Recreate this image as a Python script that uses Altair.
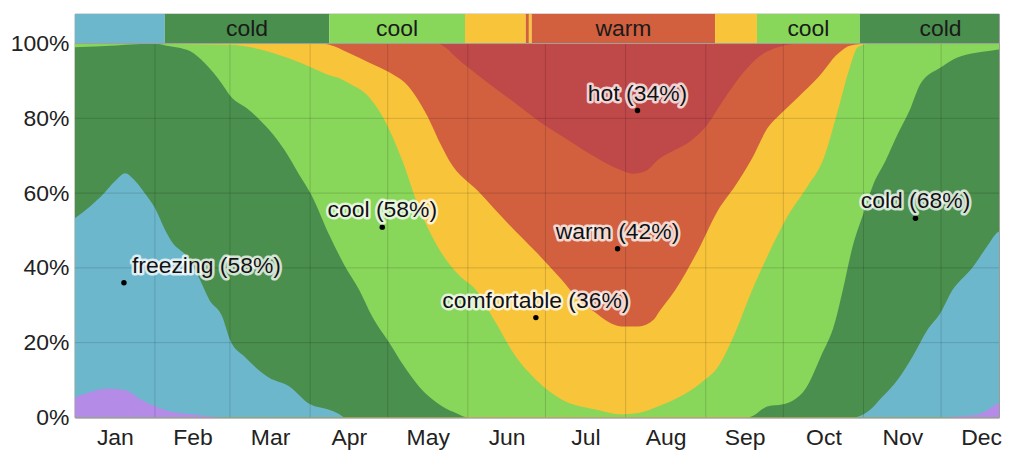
import altair as alt
import pandas as pd

# ---------------- data ----------------
months = ["Jan", "Feb", "Mar", "Apr", "May", "Jun", "Jul", "Aug", "Sep", "Oct", "Nov", "Dec"]
month_mid = [15.5, 45.5, 75.5, 106, 136.5, 167, 197.5, 228.5, 259, 289.5, 320, 350.5]
month_start = [31, 60, 91, 121, 152, 182, 213, 244, 274, 305, 335]

cat_names = ["frigid", "freezing", "cold", "cool", "comfortable", "warm", "hot"]
cat_colors = ["#b48be6", "#6db7cd", "#4a8f4d", "#88d65a", "#f8c43a", "#d2603f", "#bf4848"]

# cumulative top (fraction of hours) of each temperature band, by day of year
frigid_day = [0, 6, 12, 16, 20, 25, 31, 35, 39, 46, 52, 58, 336, 341, 349, 353, 357, 361, 366]
frigid_top = [0.053, 0.068, 0.077, 0.076, 0.072, 0.05, 0.03, 0.02, 0.013, 0.008, 0.003, 0.0,
              0.0, 0.003, 0.008, 0.02, 0.037, 0.04, 0.053]

freezing_day = [0, 6, 10, 16, 19.4, 23, 27, 31, 35, 37, 44.5, 48.4, 52, 57, 60, 65.6, 75, 83, 91, 98, 102, 104.5,
                301, 306.7, 312.4, 318.2, 324, 329.8, 334.8, 339.4, 343, 347, 353, 357, 361, 366]
freezing_top = [0.533, 0.565, 0.59, 0.635, 0.653, 0.635, 0.6, 0.56, 0.5, 0.475, 0.42, 0.368, 0.315, 0.27, 0.208,
                0.163, 0.107, 0.083, 0.035, 0.021, 0.01, 0.0,
                0.0, 0.016, 0.056, 0.101, 0.163, 0.235, 0.28, 0.341, 0.37, 0.40, 0.46, 0.496, 0.505, 0.533]

cold_day = [0, 16, 31, 35, 44.5, 50.3, 56.8, 60, 67.6, 75.3, 81.1, 86.9, 91.5, 98.4, 104.2, 110, 115, 121.6, 127,
            133.1, 138, 142, 148, 152, 260.4, 268.1, 273.8, 282.4, 288.5, 293.9, 297, 300.9, 304.7, 308.6, 313.6,
            318, 322.8, 327.1, 334.8, 341.3, 348, 354.1, 360.7, 366]
cold_top = [0.99, 0.995, 1.0, 0.995, 0.98, 0.947, 0.893, 0.861, 0.821, 0.768, 0.715, 0.648, 0.595, 0.488, 0.408,
            0.341, 0.27, 0.2, 0.14, 0.083, 0.05, 0.03, 0.01, 0.0, 0.0, 0.03, 0.035, 0.075, 0.163, 0.253, 0.341,
            0.46, 0.54, 0.62, 0.688, 0.755, 0.821, 0.893, 0.936, 0.963, 0.975, 0.981, 0.987, 0.99]

cool_day = [0, 59.9, 71.5, 83, 91.5, 98.4, 102.3, 106.2, 113.9, 120.4, 126.6, 133.1, 140.9, 148.6, 155.1, 162.8,
            170.5, 178.3, 188.3, 201.4, 211.4, 218, 225.7, 233.4, 242.2, 248.8, 255.4, 260.4, 268.1, 275.8, 283.5,
            289.3, 295.1, 299.7, 302.8, 307.8, 366]
cool_top = [1.0, 0.997, 0.985, 0.96, 0.936, 0.915, 0.907, 0.893, 0.856, 0.787, 0.688, 0.56, 0.45, 0.38, 0.341,
            0.253, 0.163, 0.101, 0.048, 0.021, 0.008, 0.012, 0.03, 0.053, 0.093, 0.136, 0.227, 0.315, 0.435, 0.54,
            0.62, 0.688, 0.821, 0.936, 0.99, 1.0, 1.0]

comfortable_day = [0, 95, 98.4, 106, 113.9, 121.6, 129.3, 135.8, 142, 144.7, 156.3, 167.8, 178.3, 188.3, 194.8,
                   201.4, 206.4, 211.4, 218, 223.8, 225.7, 232.2, 241.1, 248.8, 255.4, 261.5, 268.1, 273.1, 279.6,
                   287.4, 295.1, 300.1, 307.8, 366]
comfortable_top = [1.0, 1.0, 0.997, 0.975, 0.949, 0.923, 0.883, 0.813, 0.723, 0.688, 0.603, 0.517, 0.443, 0.368,
                   0.315, 0.28, 0.255, 0.243, 0.243, 0.261, 0.28, 0.341, 0.448, 0.555, 0.62, 0.688, 0.776, 0.813,
                   0.856, 0.909, 0.973, 0.995, 1.0, 1.0]

warm_day = [0, 137, 139.7, 149.8, 160.1, 170.5, 180.6, 191, 201.4, 210, 216, 221, 225.7, 232, 238.4, 243.8, 251.5,
            259.2, 264.2, 271.9, 280.8, 366]
warm_top = [1.0, 1.0, 1.0, 0.949, 0.893, 0.84, 0.787, 0.741, 0.696, 0.665, 0.652, 0.66, 0.69, 0.715, 0.741, 0.776,
            0.856, 0.928, 0.963, 0.99, 1.0, 1.0]

hot_day = [0, 366]
hot_top = [1.0, 1.0]

# dominant band strip along the top
band_cat = ["freezing", "cold", "cool", "comfortable", "warm", "comfortable", "warm", "comfortable", "cool", "cold"]
band_start = [0, 34.8, 98.4, 150.9, 174.4, 175.6, 176.7, 247.6, 263.8, 303.6]
band_end = [34.8, 98.4, 150.9, 174.4, 175.6, 176.7, 247.6, 263.8, 303.6, 366]
band_label = ["", "cold", "cool", "", "", "", "warm", "", "cool", "cold"]

# annotations
note_label = ["freezing (58%)", "cool (58%)", "comfortable (36%)", "warm (42%)", "hot (34%)", "cold (68%)"]
note_day = [19, 118.9, 178.3, 209.9, 217.6, 325.1]
note_value = [0.36, 0.509, 0.267, 0.451, 0.821, 0.533]
note_side = ["right", "center", "center", "center", "center", "center"]

# ---------------- chart ----------------
FONT = "Liberation Sans"
X_END = 357.4          # the reference picture is cut off in late December
x_scale = alt.Scale(domain=[0, X_END], nice=False, zero=False)
y_scale = alt.Scale(domain=[0, 1.08], nice=False)
color_scale = alt.Scale(domain=cat_names, range=cat_colors)

label_expr = ""
for m, v in zip(months, month_mid):
    label_expr += f"datum.value == {v} ? '{m}' : "
label_expr += "''"

x_axis = alt.Axis(values=month_mid, labelExpr=label_expr, title=None, ticks=False, grid=False,
                  labelPadding=9, labelFontSize=23, labelFont=FONT, labelColor="#222",
                  domainColor="#a0a0a0")
y_axis = alt.Axis(values=[0, 0.2, 0.4, 0.6, 0.8, 1.0], format=".0%", title=None, ticks=False, grid=False,
                  labelPadding=6, labelFontSize=23, labelFont=FONT, labelColor="#222",
                  domainColor="#a0a0a0", minExtent=67, maxExtent=67)

series = [
    ("hot", hot_day, hot_top),
    ("warm", warm_day, warm_top),
    ("comfortable", comfortable_day, comfortable_top),
    ("cool", cool_day, cool_top),
    ("cold", cold_day, cold_top),
    ("freezing", freezing_day, freezing_top),
    ("frigid", frigid_day, frigid_top),
]

layers = []
for name, days, tops in series:
    df = pd.DataFrame({"day": days, "top": tops, "cat": name})
    layers.append(
        alt.Chart(df).mark_area(interpolate="monotone", clip=True).encode(
            x=alt.X("day:Q", scale=x_scale, axis=x_axis),
            y=alt.Y("top:Q", scale=y_scale, axis=y_axis),
            color=alt.Color("cat:N", scale=color_scale, legend=None),
        )
    )

vgrid = alt.Chart(pd.DataFrame({"day": month_start})).mark_rule(
    color="black", opacity=0.15, strokeWidth=1, clip=True
).encode(
    x=alt.X("day:Q", scale=x_scale, axis=x_axis),
    y=alt.datum(0),
    y2=alt.datum(1.0),
)

hgrid = alt.Chart(pd.DataFrame({"v": [0.2, 0.4, 0.6, 0.8]})).mark_rule(
    color="black", opacity=0.15, strokeWidth=1, clip=True
).encode(
    y=alt.Y("v:Q", scale=y_scale, axis=y_axis),
    x=alt.datum(0),
    x2=alt.datum(X_END),
)

band_df = pd.DataFrame({"start": band_start, "end": band_end, "cat": band_cat, "label": band_label})
band = alt.Chart(band_df).mark_rect(clip=True).encode(
    x=alt.X("start:Q", scale=x_scale, axis=x_axis),
    x2="end:Q",
    y=alt.datum(1.0),
    y2=alt.datum(1.08),
    color=alt.Color("cat:N", scale=color_scale, legend=None),
)
band_line = alt.Chart(pd.DataFrame({"v": [1.0]})).mark_rule(color="#a0a0a0", strokeWidth=1, clip=True).encode(
    y=alt.Y("v:Q", scale=y_scale, axis=y_axis),
    x=alt.datum(0),
    x2=alt.datum(X_END),
)
band_text = alt.Chart(band_df).transform_filter("datum.label != ''").transform_calculate(
    mid="(datum.start + datum.end) / 2"
).mark_text(font=FONT, fontSize=23, color="#1a1a1a", baseline="middle").encode(
    x=alt.X("mid:Q", scale=x_scale, axis=x_axis),
    y=alt.datum(1.04),
    text="label:N",
)

note_df = pd.DataFrame({"label": note_label, "day": note_day, "value": note_value, "side": note_side})
dots = alt.Chart(note_df).mark_circle(size=30, color="black", opacity=1).encode(
    x=alt.X("day:Q", scale=x_scale, axis=x_axis),
    y=alt.Y("value:Q", scale=y_scale, axis=y_axis),
)


def note_text(side, align, dx):
    base = alt.Chart(note_df).transform_filter(f"datum.side == '{side}'")
    enc = dict(
        x=alt.X("day:Q", scale=x_scale, axis=x_axis),
        y=alt.Y("value:Q", scale=y_scale, axis=y_axis),
        text="label:N",
    )
    halo = base.mark_text(font=FONT, fontSize=23, align=align, dx=dx, dy=-10, baseline="alphabetic",
                          fill="white", stroke="white", strokeWidth=5, strokeOpacity=0.75,
                          strokeJoin="round").encode(**enc)
    txt = base.mark_text(font=FONT, fontSize=23, align=align, dx=dx, dy=-10, baseline="alphabetic",
                         color="#111").encode(**enc)
    return [halo, txt]


layers += [vgrid, hgrid, band, band_line, band_text, dots]
layers += note_text("right", "left", 8)
layers += note_text("center", "center", 0)

chart = alt.layer(*layers).properties(
    width=927,
    height=405,
    padding={"left": 0, "top": 5, "right": 0, "bottom": 0},
).configure_view(stroke="#a0a0a0", strokeWidth=1)

chart.save("out.html", embed_options={"renderer": "svg", "actions": False})
